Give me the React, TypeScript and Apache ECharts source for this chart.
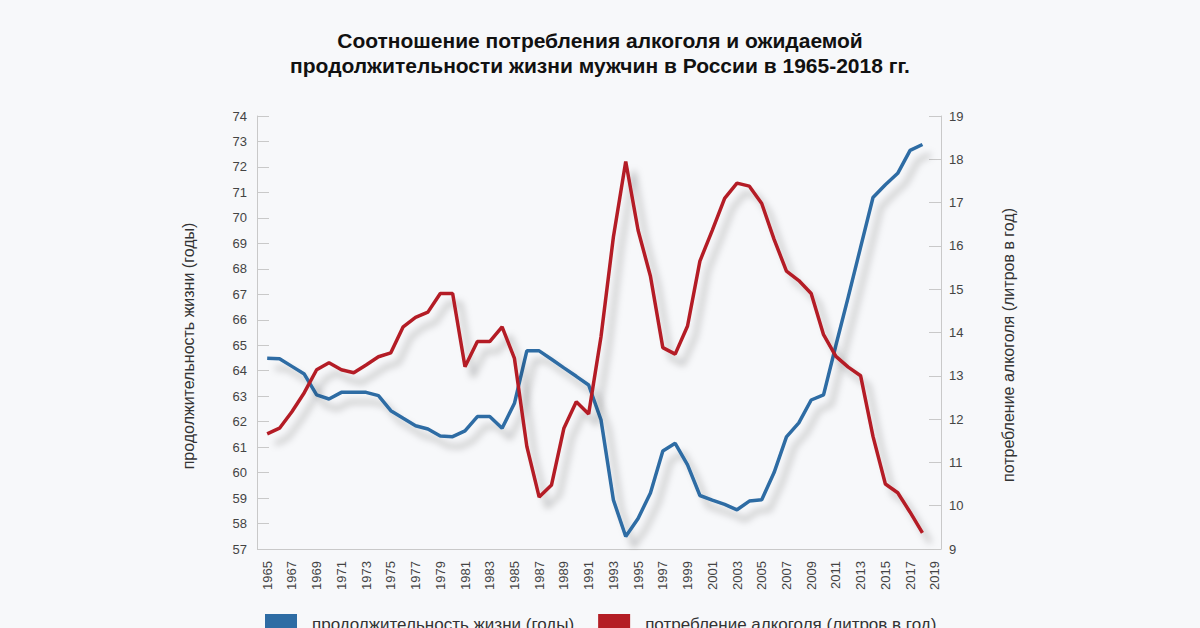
import React, { useEffect, useRef } from "react";
import * as echarts from "echarts";

const years: string[] = [];
for (let y = 1965; y <= 2019; y++) years.push(String(y));

const lifeExpectancy = [
  64.49, 64.47, 64.17, 63.87, 63.05, 62.89, 63.15, 63.15, 63.15, 63.02,
  62.43, 62.13, 61.84, 61.71, 61.44, 61.41, 61.64, 62.2, 62.2, 61.74,
  62.72, 64.78, 64.78, 64.45, 64.11, 63.78, 63.44, 62.07, 58.93, 57.49,
  58.2, 59.2, 60.85, 61.15, 60.3, 59.1, 58.92, 58.75, 58.54, 58.88,
  58.93, 60.0, 61.4, 61.95, 62.85, 63.05, 65.0, 66.9, 68.85, 70.8,
  71.3, 71.75, 72.65, 72.88,
];

const alcohol = [
  11.66, 11.79, 12.17, 12.61, 13.14, 13.3, 13.14, 13.07, 13.25, 13.44,
  13.53, 14.13, 14.35, 14.47, 14.9, 14.9, 13.21, 13.79, 13.79, 14.13,
  13.4, 11.37, 10.2, 10.48, 11.79, 12.4, 12.12, 13.9, 16.2, 17.95,
  16.36, 15.3, 13.65, 13.5, 14.15, 15.65, 16.36, 17.1, 17.45, 17.38,
  16.98, 16.15, 15.42, 15.2, 14.9, 13.95, 13.45, 13.2, 13.0, 11.6,
  10.5, 10.3, 9.85, 9.37,
];

const titleText =
  "Соотношение потребления алкоголя и ожидаемой\nпродолжительности жизни мужчин в России в 1965-2018 гг.";
const leftName = "продолжительность жизни (годы)";
const rightName = "потребление алкоголя (литров в год)";

const FONT = "'Liberation Sans', Arial, Helvetica, sans-serif";

export default function App() {
  const ref = useRef<HTMLDivElement>(null);
  useEffect(() => {
    if (!ref.current) return;
    const chart = echarts.init(ref.current, null, { renderer: "svg" });
    const axisColor = "#c9c9c9";
    chart.setOption({
      animation: false,
      backgroundColor: "#f7f8fa",
      textStyle: { fontFamily: FONT },
      title: {
        text: titleText,
        left: "center",
        top: 23,
        textStyle: {
          fontSize: 21,
          fontWeight: "bold",
          color: "#111",
          lineHeight: 25,
          fontFamily: FONT,
        },
      },
      legend: {
        left: 265,
        top: 614,
        padding: 0,
        itemWidth: 32,
        itemHeight: 20,
        itemGap: 24,
        icon: "rect",
        data: [leftName, rightName],
        textStyle: {
          fontSize: 17,
          color: "#333",
          fontFamily: FONT,
          padding: [0, 0, 0, 10],
        },
      },
      grid: { left: 261, right: 259, top: 116, bottom: 79 },
      xAxis: {
        type: "category",
        data: years,
        boundaryGap: true,
        axisLine: { lineStyle: { color: axisColor, width: 1 } },
        axisTick: { show: false },
        axisLabel: {
          rotate: 90,
          interval: 1,
          margin: 12,
          fontSize: 13,
          color: "#444",
          fontFamily: FONT,
        },
        splitLine: { show: false },
      },
      yAxis: [
        {
          type: "value",
          position: "left",
          offset: 4,
          min: 57,
          max: 74,
          interval: 1,
          axisLine: { show: true, lineStyle: { color: axisColor } },
          axisTick: { show: true, inside: true, length: 12, lineStyle: { color: axisColor } },
          axisLabel: { fontSize: 13, color: "#444", margin: 10, fontFamily: FONT },
          splitLine: { show: false },
        },
        {
          type: "value",
          position: "right",
          min: 9,
          max: 19,
          interval: 1,
          axisLine: { show: true, lineStyle: { color: axisColor } },
          axisTick: { show: true, inside: true, length: 12, lineStyle: { color: axisColor } },
          axisLabel: { fontSize: 13, color: "#444", margin: 8, fontFamily: FONT },
          splitLine: { show: false },
        },
      ],
      graphic: [
        {
          type: "text",
          x: 188,
          y: 346,
          rotation: Math.PI / 2,
          style: {
            text: leftName,
            align: "center",
            verticalAlign: "middle",
            fontSize: 16,
            fill: "#333",
            fontFamily: FONT,
          },
        },
        {
          type: "text",
          x: 1008,
          y: 345,
          rotation: Math.PI / 2,
          style: {
            text: rightName,
            align: "center",
            verticalAlign: "middle",
            fontSize: 16,
            fill: "#333",
            fontFamily: FONT,
          },
        },
      ],
      series: [
        {
          name: leftName,
          type: "line",
          yAxisIndex: 0,
          data: lifeExpectancy,
          symbol: "none",
          color: "#2e6ca4",
          lineStyle: {
            width: 3.5,
            color: "#2e6ca4",
            shadowColor: "rgba(0,0,0,0.25)",
            shadowBlur: 7,
            shadowOffsetX: 8,
            shadowOffsetY: 10,
          },
        },
        {
          name: rightName,
          type: "line",
          yAxisIndex: 1,
          data: alcohol,
          symbol: "none",
          color: "#b41e25",
          lineStyle: {
            width: 3.5,
            color: "#b41e25",
            shadowColor: "rgba(0,0,0,0.25)",
            shadowBlur: 7,
            shadowOffsetX: 8,
            shadowOffsetY: 10,
          },
        },
      ],
    });
    return () => chart.dispose();
  }, []);
  return (
    <div
      ref={ref}
      style={{ position: "absolute", left: 0, top: 0, width: 1200, height: 628 }}
    />
  );
}
